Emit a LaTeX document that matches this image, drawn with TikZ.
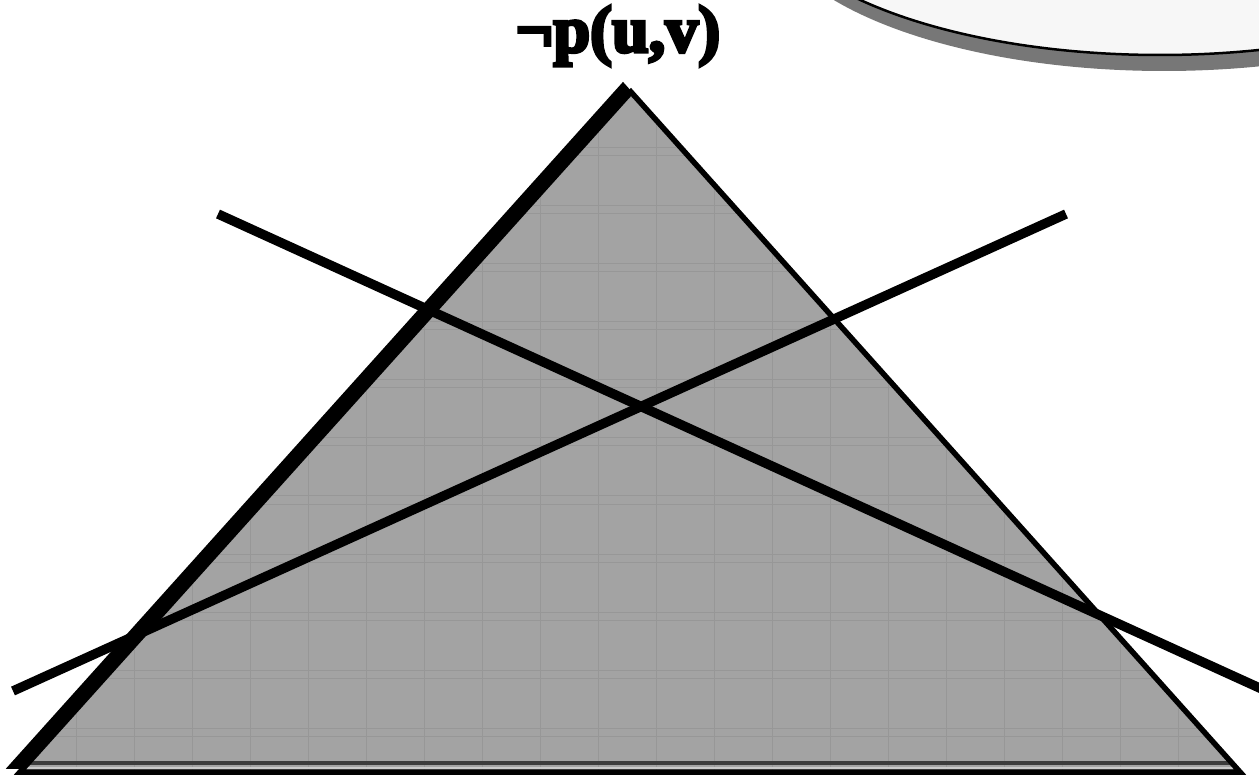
\documentclass[tikz,border=0pt]{standalone}
\usepackage{fontspec}
\newfontfamily\labelfont{Liberation Serif}[FakeBold=5]
\usepackage{tikz}

\begin{document}
\begin{tikzpicture}[x=1pt,y=-1pt,
  edge/.style={black,line width=5.5pt,line join=miter},
  cut/.style={black,line width=9.5pt},
  gridline/.style={gridGray,line width=1pt}]
\definecolor{faceGray}{HTML}{A3A3A3}
\definecolor{backGray}{HTML}{CACACA}
\definecolor{gridGray}{HTML}{979797}
\definecolor{bandGray}{HTML}{3C3C3C}
\definecolor{bubbleFill}{HTML}{F7F7F7}
\definecolor{bubbleShadow}{HTML}{777777}
\useasboundingbox (0,0) rectangle (1259,775);
% bubble in the corner
\begin{scope}
\clip (0,0) rectangle (1259,775);
\fill[bubbleShadow] (1164,-92) ellipse [x radius=400pt,y radius=163pt];
\filldraw[fill=bubbleFill,draw=black,line width=2.5pt] (1160,-108) ellipse [x radius=400pt,y radius=163pt];
\end{scope}
% triangle, back and front
\coordinate (backTop) at (623,86);
\coordinate (backLeft) at (12,766);
\coordinate (backRight) at (1232,766);
\coordinate (frontTop) at (631,92);
\coordinate (frontLeft) at (20,772);
\coordinate (frontRight) at (1240,772);
\filldraw[fill=backGray,edge] (backTop) -- (backLeft) -- (backRight) -- cycle;
\fill[faceGray] (frontTop) -- (frontLeft) -- (frontRight) -- cycle;
\begin{scope}
\clip (frontTop) -- (frontLeft) -- (frontRight) -- cycle;
\foreach \x in {18,76,...,1250} {
  \draw[gridline] (\x,80) -- (\x,775);
}
\foreach \y in {32,90,...,760} {
  \draw[gridline] (0,\y) -- (1259,\y);
  \draw[gridline] (0,\y+8) -- (1259,\y+8);
}
\draw[bandGray,line width=4pt] (0,763) -- (1259,763);
\draw[backGray,line width=2pt] (0,768) -- (1259,768);
\end{scope}
\draw[edge] (frontTop) -- (frontLeft) -- (frontRight) -- cycle;
% the two crossing lines
\coordinate (cutAstart) at (218,214);
\coordinate (cutAend) at (1275,695);
\coordinate (cutBstart) at (13,691);
\coordinate (cutBend) at (1066,214);
\begin{scope}
\clip (0,0) rectangle (1259,775);
\draw[cut] (cutAstart) -- (cutAend);
\draw[cut] (cutBstart) -- (cutBend);
\end{scope}
\node (title) at (618,36) {\labelfont\bfseries\fontsize{66}{70}\selectfont ¬p(u,v)};
\end{tikzpicture}
\end{document}
